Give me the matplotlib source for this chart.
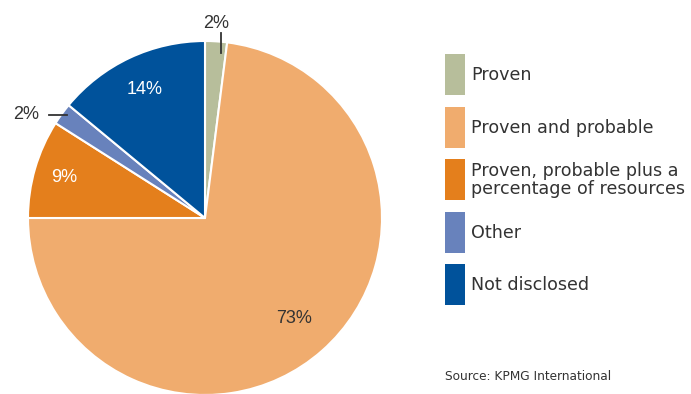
import matplotlib
matplotlib.use("Agg")
import matplotlib.pyplot as plt
from matplotlib.patches import Rectangle
import numpy as np

plt.rcParams['font.family'] = ['Liberation Sans', 'DejaVu Sans']

categories = ["Proven", "Proven and probable",
              "Proven, probable plus a\npercentage of resources",
              "Other", "Not disclosed"]
values = [2, 73, 9, 2, 14]
colors = ["#B7BE9B", "#F0AC6E", "#E47F1C", "#6882BC", "#00529B"]
source = "Source: KPMG International"

W, H = 691, 394
fig = plt.figure(figsize=(W / 100, H / 100), dpi=100)

# pie axes: centre at (205, 218) px, radius 177 px
cx, cy, r = 205, 218, 177
ax = fig.add_axes([(cx - r) / W, (H - cy - r) / H, 2 * r / W, 2 * r / H])
wedges, _ = ax.pie(values, colors=colors, startangle=90, counterclock=False,
                   radius=1, wedgeprops=dict(edgecolor="white", linewidth=1.5))
ax.set_xlim(-1, 1)
ax.set_ylim(-1, 1)
ax.set_aspect("equal")
ax.axis("off")

text_col = "#333333"
legend_font = ['DejaVu Sans']
# inside labels: (index, radial fraction, colour)
inside = {1: (0.76, text_col), 2: (0.83, "white"), 4: (0.80, "white")}
for i, w in enumerate(wedges):
    mid = np.deg2rad((w.theta1 + w.theta2) / 2)
    lab = f"{values[i]}%"
    if i in inside:
        frac, col = inside[i]
        ax.text(frac * np.cos(mid), frac * np.sin(mid), lab, ha="center",
                va="center", fontsize=13, color=col)

# small slices labelled outside with leader lines
m0 = np.deg2rad((wedges[0].theta1 + wedges[0].theta2) / 2)
x0 = np.cos(m0) + 0.025
ax.plot([x0, x0], [0.93, 1.045], color=text_col, lw=1.3, clip_on=False)
ax.text(np.cos(m0), 1.10, f"{values[0]}%", ha="center", va="center",
        fontsize=13, color=text_col)

m3 = np.deg2rad((wedges[3].theta1 + wedges[3].theta2) / 2)
y3 = np.sin(m3) - 0.005
ax.plot([np.cos(m3) - 0.075, np.cos(m3) + 0.03], [y3, y3], color=text_col,
        lw=1.3, clip_on=False)
ax.text(np.cos(m3) - 0.13, y3, f"{values[3]}%", ha="right", va="center",
        fontsize=13, color=text_col)

# legend drawn in pixel coordinates
lax = fig.add_axes([0, 0, 1, 1])
lax.set_xlim(0, W)
lax.set_ylim(H, 0)
lax.axis("off")
top0, step, ph, pw = 54, 52.5, 41, 20
for k, (cat, col) in enumerate(zip(categories, colors)):
    y = top0 + k * step
    lax.add_patch(Rectangle((445, y), pw, ph, facecolor=col, edgecolor="none"))
    lax.text(471, y + ph / 2 + 0.5, cat, ha="left", va="center", fontsize=12.6,
             color=text_col, linespacing=0.98, family=legend_font)

lax.text(445, 376, source, ha="left", va="center", fontsize=8.7, color=text_col,
         family=legend_font)

fig.savefig("out.png", dpi=100)
